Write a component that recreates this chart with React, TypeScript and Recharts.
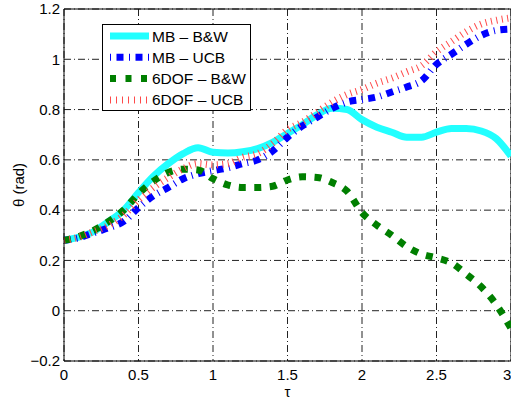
import React from "react";
import {
  CartesianGrid,
  Legend,
  Line,
  LineChart,
  ReferenceLine,
  XAxis,
  YAxis,
} from "recharts";

// tau samples (shared by all four series)
const tau = [
  0, 0.1, 0.2, 0.3, 0.4, 0.5, 0.6, 0.7, 0.8, 0.9, 1.0, 1.1, 1.2, 1.3, 1.4, 1.5,
  1.6, 1.7, 1.8, 1.9, 2.0, 2.1, 2.2, 2.3, 2.4, 2.5, 2.6, 2.7, 2.8, 2.9, 3.0,
];

const mbBW = [
  0.28, 0.293, 0.315, 0.355, 0.4, 0.47, 0.535, 0.585, 0.625, 0.648, 0.63,
  0.627, 0.632, 0.645, 0.67, 0.705, 0.74, 0.78, 0.805, 0.8, 0.76, 0.73, 0.71,
  0.69, 0.69, 0.71, 0.725, 0.725, 0.715, 0.685, 0.615,
];

const mbUCB = [
  0.28, 0.29, 0.31, 0.33, 0.355, 0.41, 0.457, 0.49, 0.525, 0.545, 0.557, 0.568,
  0.585, 0.6, 0.635, 0.69, 0.735, 0.77, 0.805, 0.83, 0.84, 0.85, 0.87, 0.89,
  0.915, 0.98, 1.02, 1.06, 1.095, 1.115, 1.12,
];

const dofBW = [
  0.28, 0.295, 0.32, 0.355, 0.4, 0.465, 0.515, 0.55, 0.563, 0.56, 0.525, 0.5,
  0.49, 0.49, 0.495, 0.52, 0.533, 0.53, 0.51, 0.475, 0.39, 0.34, 0.3, 0.255,
  0.225, 0.21, 0.19, 0.145, 0.095, 0.025, -0.07,
];

const dofUCB = [
  0.28, 0.292, 0.315, 0.34, 0.38, 0.44, 0.49, 0.53, 0.565, 0.585, 0.58, 0.585,
  0.61, 0.625, 0.665, 0.72, 0.75, 0.79, 0.83, 0.86, 0.88, 0.905, 0.925, 0.95,
  0.975, 1.03, 1.07, 1.11, 1.14, 1.155, 1.165,
];

const xTicks = [0, 0.5, 1, 1.5, 2, 2.5, 3];
const yTicks = [-0.2, 0, 0.2, 0.4, 0.6, 0.8, 1, 1.2];

const seriesNames = ["MB \u2013 B&W", "MB \u2013 UCB", "6DOF \u2013 B&W", "6DOF \u2013 UCB"];

const font = "'Liberation Sans', Arial, Helvetica, sans-serif";

const styles = [
  { key: "mbBW", stroke: "#22ffff", dash: undefined, legendDash: undefined },
  { key: "mbUCB", stroke: "#0000ff", dash: "7 5.5 1 5.5", legendDash: "1 5.5 7 5.5" },
  { key: "dofBW", stroke: "#007f00", dash: "7 8.5", legendDash: "6 9.5" },
  { key: "dofUCB", stroke: "#ff4a4a", dash: "1 4.5", legendDash: "1 5" },
];

const chartData = tau.map((t, i) => ({
  t,
  mbBW: mbBW[i],
  mbUCB: mbUCB[i],
  dofBW: dofBW[i],
  dofUCB: dofUCB[i],
}));

const fmt = (v: number) => (v < 0 ? "\u2212" + Math.abs(v) : String(v));

function LegendBox() {
  return (
    <svg width={150} height={88} style={{ display: "block" }}>
      <rect x={0.5} y={0.5} width={148} height={86} fill="#fff" stroke="#000" />
      {styles.map((s, i) => {
        const y = 12 + i * 21.3;
        return (
          <g key={s.key}>
            <line
              x1={8}
              x2={47}
              y1={y}
              y2={y}
              stroke={s.stroke}
              strokeWidth={7}
              strokeDasharray={s.legendDash}
            />
            <text x={50} y={y + 5.5} fontSize={15.5} fontFamily={font} fill="#000">
              {seriesNames[i]}
            </text>
          </g>
        );
      })}
    </svg>
  );
}

export default function App() {
  return (
    <div
      style={{
        position: "absolute",
        left: 0,
        top: 0,
        width: 511,
        height: 400,
        background: "#fff",
      }}
    >
      <LineChart
        width={511}
        height={400}
        data={chartData}
        margin={{ top: 9, right: 0, bottom: 0, left: 0 }}
      >
        <CartesianGrid stroke="#222" strokeDasharray="7 3 1 3" />
        <XAxis
          dataKey="t"
          type="number"
          domain={[0, 3]}
          ticks={xTicks}
          tickFormatter={fmt}
          height={39}
          axisLine={{ stroke: "#000" }}
          tickLine={false}
          tick={{ fill: "#000", fontSize: 15, fontFamily: font }}
          label={{
            value: "\u03c4",
            position: "insideBottom",
            offset: 3,
            fill: "#000",
            fontSize: 15,
            fontFamily: font,
          }}
        />
        <YAxis
          type="number"
          domain={[-0.2, 1.2]}
          ticks={yTicks}
          tickFormatter={fmt}
          width={64}
          axisLine={{ stroke: "#000" }}
          tickLine={false}
          tickSize={4}
          tickMargin={0}
          tick={{ fill: "#000", fontSize: 15, fontFamily: font }}
          label={{
            value: "\u03b8 (rad)",
            angle: -90,
            position: "insideLeft",
            offset: 19,
            style: { textAnchor: "middle" },
            fill: "#000",
            fontSize: 15,
            fontFamily: font,
          }}
        />
        <ReferenceLine y={1.2} stroke="#000" />
        <ReferenceLine x={3} stroke="#000" />
        {styles.map((s) => (
          <Line
            key={s.key}
            dataKey={s.key}
            type="monotone"
            stroke={s.stroke}
            strokeWidth={7}
            strokeDasharray={s.dash}
            dot={false}
            activeDot={false}
            isAnimationActive={false}
          />
        ))}
        <Legend
          layout="vertical"
          align="center"
          verticalAlign="middle"
          wrapperStyle={{ position: "absolute", left: 102, top: 24, width: 150, height: 88 }}
          content={() => <LegendBox />}
        />
      </LineChart>
    </div>
  );
}
